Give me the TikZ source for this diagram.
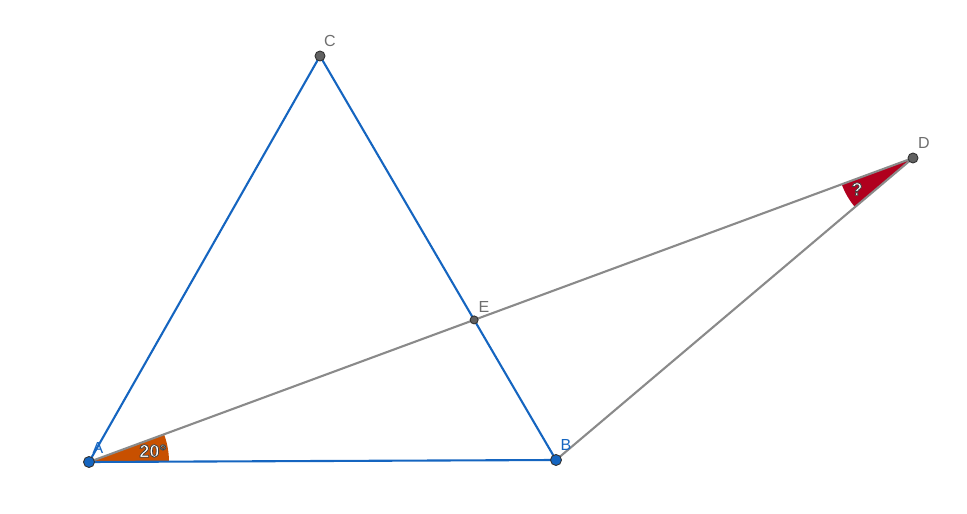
\documentclass[tikz,border=0pt]{standalone}
\usepackage{fontspec}
\newfontfamily\lab{Liberation Sans}
\newfontfamily\labbold{Liberation Sans Bold}
\usetikzlibrary{calc,angles,intersections}
\definecolor{segblue}{HTML}{1565C0}
\definecolor{seggray}{HTML}{8A8A8A}
\definecolor{ptgray}{HTML}{616161}
\definecolor{angorange}{HTML}{C85000}
\definecolor{angred}{HTML}{B0001E}
\definecolor{lblgray}{HTML}{6E6E6E}
\tikzset{
  blueseg/.style={draw=segblue, line width=2.1pt},
  grayseg/.style={draw=seggray, line width=2.1pt},
  bluept/.style={circle, fill=segblue, draw=black!80, line width=0.9pt, inner sep=0pt, minimum size=11pt},
  graypt/.style={circle, fill=ptgray, draw=black!80, line width=0.9pt, inner sep=0pt, minimum size=10pt},
  smallpt/.style={circle, fill=ptgray, draw=black!80, line width=0.9pt, inner sep=0pt, minimum size=8pt},
  ptlabel/.style={font=\lab\fontsize{16}{16}\selectfont, inner sep=0pt},
  anglbl/.style={font=\labbold\fontsize{18}{18}\selectfont, inner sep=0pt, text=white}
}
\newcommand{\outlined}[1]{\special{pdf:code 2 Tr 0.25 0.25 0.25 RG 0.8 w}#1\special{pdf:code 0 Tr}}
\begin{document}
\begin{tikzpicture}[x=1pt,y=1pt]
\useasboundingbox (0,0) rectangle (967,514);
\coordinate (A) at (89,52);
\coordinate (B) at (556,54);
\coordinate (C) at (320,458);
\coordinate (D) at (913,356);
\path[name path=ad] (A) -- (D);
\path[name path=cb] (C) -- (B);
\path[name intersections={of=ad and cb, by=E}];
% angle sectors
\pic[fill=angorange, draw=none, angle radius=80pt] {angle = B--A--D};
\pic[fill=angred, draw=none, angle radius=76pt] {angle = A--D--B};
% segments
\draw[grayseg] (A) -- (D);
\draw[grayseg] (D) -- (B);
\draw[blueseg] (A) -- (B);
\draw[blueseg] (A) -- (C);
\draw[blueseg] (C) -- (B);
% points
\node[bluept] (pA) at (A) {};
\node[bluept] (pB) at (B) {};
\node[graypt] (pC) at (C) {};
\node[graypt] (pD) at (D) {};
\node[smallpt] (pE) at (E) {};
% labels
\node[ptlabel, text=segblue] (lA) at (98,66) {A};
\node[ptlabel, text=segblue] (lB) at (566,69) {B};
\node[ptlabel, text=lblgray] (lC) at (330,473) {C};
\node[ptlabel, text=lblgray] (lD) at (924,371) {D};
\node[ptlabel, text=lblgray] (lE) at (484,207) {E};
% angle labels
\node[anglbl] (tA) at (153,63) {\outlined{20°}};
\node[anglbl] (tD) at (857,325) {\outlined{?}};
\end{tikzpicture}
\end{document}
